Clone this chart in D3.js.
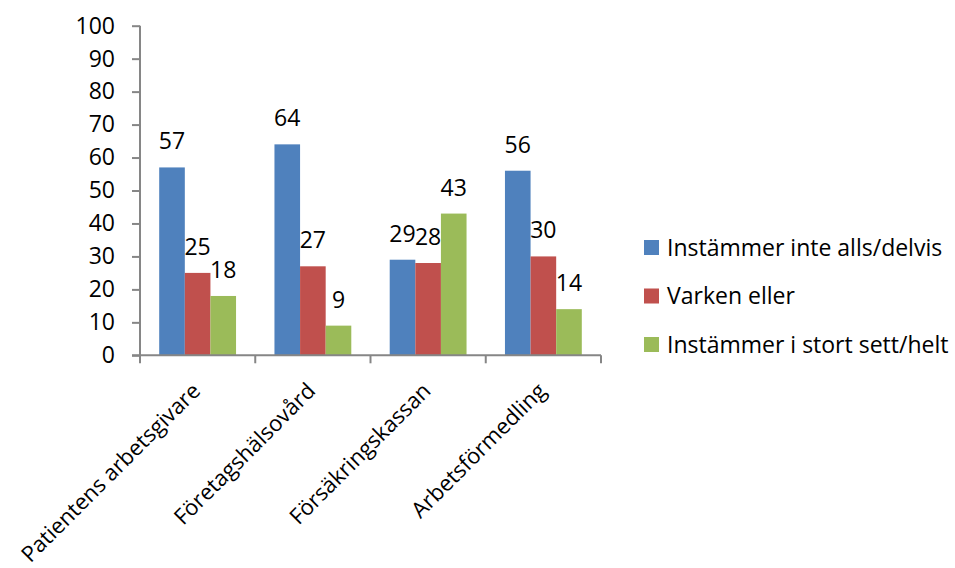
<!DOCTYPE html>
<html><head><meta charset="utf-8">
<script src="https://cdn.jsdelivr.net/npm/d3@7"></script>
<style>body{margin:0;background:#fff}svg{display:block}text{font-family:"Open Sans",sans-serif;fill:#000}</style>
</head><body><svg id="c" width="955" height="568"></svg>
<script>
const categories = ["Patientens arbetsgivare","Företagshälsovård","Försäkringskassan","Arbetsförmedling"];
const seriesNames = ["Instämmer inte alls/delvis","Varken eller","Instämmer i stort sett/helt"];
const instammerInte = [57,64,29,56];
const varkenEller = [25,27,28,30];
const instammerHelt = [18,9,43,14];
const yTicks = [0,10,20,30,40,50,60,70,80,90,100];
const colors = ["#4F81BD","#C0504D","#9BBB59"];
const seriesValues = [instammerInte, varkenEller, instammerHelt];
const FS = 23;

const svg = d3.select("#c");
const m = {left:140, right:601, top:25.7, bottom:355.3};
const x0 = d3.scaleBand().domain(categories).range([m.left, m.right]).padding(0);
const step = x0.bandwidth();
const w = step/4.5;
const x1 = d3.scaleBand().domain(seriesNames).range([0.75*w, step-0.75*w]).padding(0);
const y = d3.scaleLinear().domain([0,100]).range([m.bottom, m.top]);
const axisColor = "#868686";

seriesNames.forEach((s,si)=>{
  const g = svg.append("g");
  g.selectAll("rect").data(categories).join("rect")
    .attr("x", c=>x0(c)+x1(s))
    .attr("y", (c,i)=>y(seriesValues[si][i]))
    .attr("width", x1.bandwidth())
    .attr("height", (c,i)=>y(0)-y(seriesValues[si][i]))
    .attr("fill", colors[si]);
  g.selectAll("text").data(categories).join("text")
    .attr("x", c=>x0(c)+x1(s)+x1.bandwidth()/2)
    .attr("y", (c,i)=>y(seriesValues[si][i])-18)
    .attr("text-anchor","middle")
    .attr("font-size", FS)
    .text((c,i)=>seriesValues[si][i]);
});

const ya = svg.append("g").attr("transform",`translate(${m.left},0)`)
  .call(d3.axisLeft(y).tickValues(yTicks).tickSize(8).tickPadding(17));
ya.selectAll("path,line").attr("stroke",axisColor).attr("stroke-width",2);
ya.select("path").attr("d",`M0,${m.top}V${m.bottom}`);
ya.selectAll("text").attr("font-size",FS).attr("fill","#000").style("font-family","'Open Sans',sans-serif");

const xa = svg.append("g").attr("transform",`translate(0,${m.bottom})`);
xa.append("line").attr("x1",m.left-8).attr("x2",m.right).attr("stroke",axisColor).attr("stroke-width",2);
const bounds = categories.map(c=>x0(c)).concat([m.right]);
xa.selectAll("line.t").data(bounds).join("line").attr("class","t")
  .attr("x1",d=>d).attr("x2",d=>d).attr("y1",0).attr("y2",8)
  .attr("stroke",axisColor).attr("stroke-width",2);
xa.selectAll("text").data(categories).join("text")
  .attr("transform", c=>`translate(${x0(c)+step/2+4},${37}) rotate(-45)`)
  .attr("text-anchor","end")
  .attr("font-size",22)
  .text(c=>c);

const lg = svg.append("g");
seriesNames.forEach((s,i)=>{
  const cy = 247.5 + i*48.5;
  lg.append("rect").attr("x",644).attr("y",cy-7.5).attr("width",15).attr("height",15).attr("fill",colors[i]);
  lg.append("text").attr("x",667).attr("y",cy+8.2).attr("font-size",FS).text(s);
});
</script></body></html>
